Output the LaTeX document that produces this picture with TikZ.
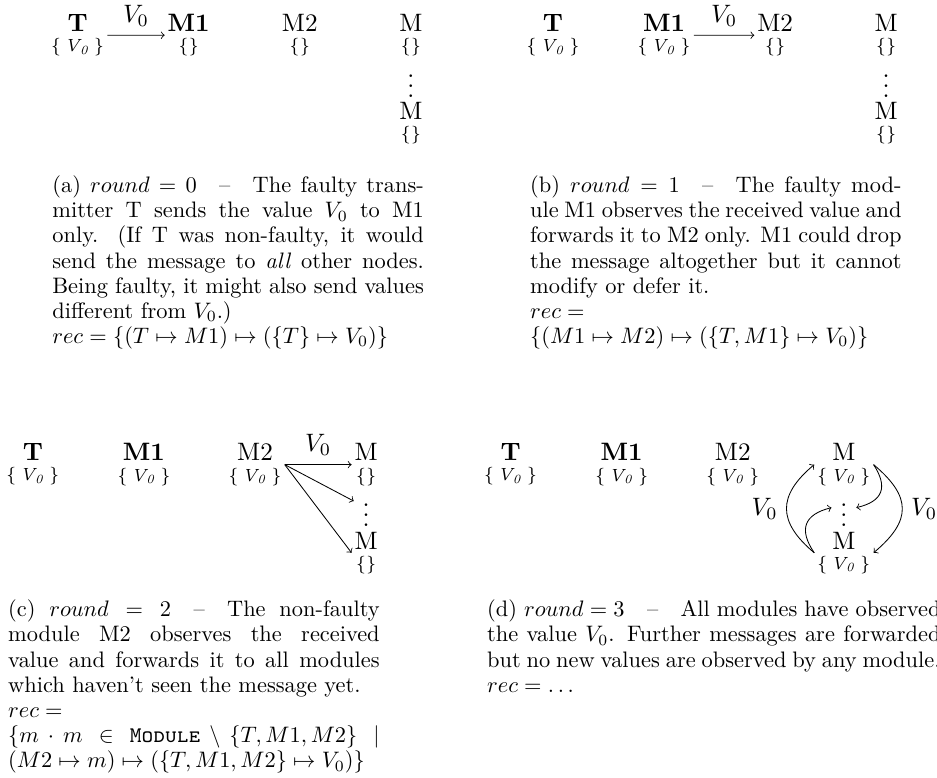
\RequirePackage{fix-cm}
\documentclass[tikz,border=0pt]{standalone}
\usepackage{amsmath,amssymb}
\usetikzlibrary{positioning}

\tikzset{
  mod/.style={align=center,inner sep=1pt},
  capt/.style={anchor=north west,inner sep=0pt,text width=177pt,align=justify,
    font=\fontsize{10.67}{12}\selectfont}
}
\newcommand{\mset}[1]{\scriptsize$\{#1\}$}

\begin{document}
\begin{tikzpicture}[>=to]
  \useasboundingbox (0,0) rectangle (15.69,-13.02);

  % (a) round 0
  \begin{scope}[shift={(1.3,-0.59)},scale=1.2,transform shape]
    \foreach \n/\x/\t/\s in {t/0/\textbf{T}/{\,\mathit{V_0}\,},m1/1.55/\textbf{M1}/{},m2/3.1/M2/{},mt/4.65/M/{}}
      \node[mod] (\n-a) at (\x,0) {\t\\[-4pt]\mset{\s}};
    \node (d-a) at (4.65,-0.6) {$\vdots$};
    \node[mod] (mb-a) at (4.65,-1.23) {M\\[-4pt]\mset{}};
    \draw[->] (t-a) -- node[above] {$V_0$} (m1-a);
  \end{scope}

  % (b) round 1
  \begin{scope}[shift={(9.26,-0.59)},scale=1.2,transform shape]
    \foreach \n/\x/\t/\s in {t/0/\textbf{T}/{\,\mathit{V_0}\,},m1/1.55/\textbf{M1}/{\,\mathit{V_0}\,},m2/3.1/M2/{},mt/4.65/M/{}}
      \node[mod] (\n-b) at (\x,0) {\t\\[-4pt]\mset{\s}};
    \node (d-b) at (4.65,-0.6) {$\vdots$};
    \node[mod] (mb-b) at (4.65,-1.23) {M\\[-4pt]\mset{}};
    \draw[->] (m1-b) -- node[above] {$V_0$} (m2-b);
  \end{scope}

  % (c) round 2
  \begin{scope}[shift={(0.55,-7.78)},scale=1.2,transform shape]
    \foreach \n/\x/\t/\s in {t/0/\textbf{T}/{\,\mathit{V_0}\,},m1/1.55/\textbf{M1}/{\,\mathit{V_0}\,},m2/3.1/M2/{\,\mathit{V_0}\,},mt/4.65/M/{}}
      \node[mod] (\n-c) at (\x,0) {\t\\[-4pt]\mset{\s}};
    \node (d-c) at (4.65,-0.6) {$\vdots$};
    \node[mod] (mb-c) at (4.65,-1.23) {M\\[-4pt]\mset{}};
    \draw[->] (m2-c.east) -- node[above] {$V_0$} (mt-c.west);
    \draw[->] (m2-c.east) -- (d-c);
    \draw[->] (m2-c.east) -- (mb-c.west);
  \end{scope}

  % (d) round 3
  \begin{scope}[shift={(8.55,-7.78)},scale=1.2,transform shape]
    \foreach \n/\x/\t in {t/0/\textbf{T},m1/1.55/\textbf{M1},m2/3.1/M2,mt/4.65/M}
      \node[mod] (\n-d) at (\x,0) {\t\\[-4pt]\mset{\,\mathit{V_0}\,}};
    \node (d-d) at (4.65,-0.6) {$\vdots$};
    \node[mod] (mb-d) at (4.65,-1.23) {M\\[-4pt]\mset{\,\mathit{V_0}\,}};
    \draw[->] (mb-d.west) to[bend left=50,looseness=1.4] node[left] {$V_0$} (mt-d.west);
    \draw[->] (mt-d.east) to[bend left=50,looseness=1.45] node[right] {$V_0$} (mb-d.east);
    \draw[->] (mt-d.east) to[bend left=55,looseness=1.5] (d-d.east);
    \draw[->] (mb-d.west) to[bend left=55,looseness=1.5] (d-d.west);
  \end{scope}

  % captions
  \node[capt] (cap-a) at (0.87,-2.935) {(a) $round = 0$\quad--\quad The faulty transmitter T sends the value $V_0$ to M1 only. (If T was non-faulty, it would send the message to \emph{all} other nodes. Being faulty, it might also send values different from $V_0$.)\\ $rec = \{(T \mapsto M1) \mapsto (\{T\} \mapsto V_0)\}$};
  \node[capt] (cap-b) at (8.87,-2.935) {(b) $round = 1$\quad--\quad The faulty module M1 observes the received value and forwards it to M2 only. M1 could drop the message altogether but it cannot modify or defer it.\\ $rec =$\\ $\{(M1 \mapsto M2) \mapsto (\{T, M1\} \mapsto V_0)\}$};
  \node[capt] (cap-c) at (0.13,-10.04) {(c) $round = 2$\quad--\quad The non-faulty module M2 observes the received\linebreak value and forwards it to all modules which haven't seen the message yet.\\ $rec =$\\ $\{m \cdot m \in \texttt{\textsc{Module}} \setminus \{T, M1, M2\} \mid (M2 \mapsto m) \mapsto (\{T, M1, M2\} \mapsto V_0)\}$};
  \node[capt,text width=216pt] (cap-d) at (8.15,-10.04) {(d) $round = 3$\quad--\quad All modules have observed the value $V_0$. Further messages are forwarded but no new values are observed by any module.\\ $rec = \dots$};
\end{tikzpicture}
\end{document}
